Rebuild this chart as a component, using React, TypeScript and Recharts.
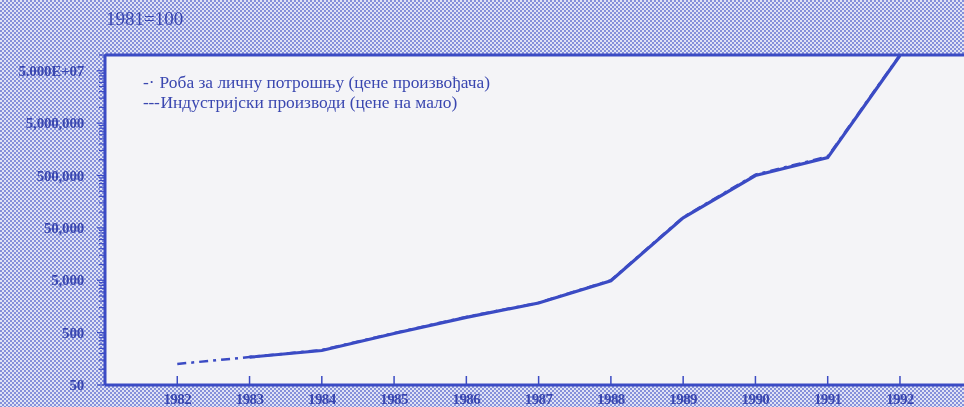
import { LineChart, Line, XAxis, YAxis, CartesianGrid, ReferenceLine } from "recharts"

const years = [1982, 1983, 1984, 1985, 1986, 1987, 1988, 1989, 1990, 1991, 1992]

// Роба за личну потрошњу (цене произвођача)
const consumerGoods = [126, 171, 233, 490, 1000, 1860, 5000, 80000, 520000, 1150000, 100000000]
// Индустријски производи (цене на мало)
const industrialProducts = [null, 170, 228, 480, 980, 1840, 4900, 78000, 500000, 1100000, 98000000]

const majorTicks = [50, 500, 5000, 50000, 500000, 5000000, 50000000]
const majorLabels = ["50", "500", "5,000", "50,000", "500,000", "5,000,000", "5.000E+07"]
const minorMultipliers = [2, 3, 4, 5, 6, 7, 8, 9]

const SERIES_A = "Роба за личну потрошњу (цене произвођача)"
const SERIES_B = "Индустријски производи (цене на мало)"

const BLUE = "#3b4bc4"
const TEXT = "#3a47b0"
const FONT = "'Liberation Serif', 'DejaVu Serif', serif"

const data = years.map((year, i) => ({
  year,
  a: consumerGoods[i],
  b: industrialProducts[i],
}))

const allTicks: number[] = []
majorTicks.forEach((t) => {
  allTicks.push(t)
  if (t < 50000000) minorMultipliers.forEach((m) => allTicks.push(t * m))
  else allTicks.push(t * 2)
})

const YTick = (props: any) => {
  const { x, y, payload } = props
  const idx = majorTicks.indexOf(payload.value)
  const major = idx >= 0
  return (
    <g>
      <line x1={x - (major ? 8 : 6)} x2={x} y1={y} y2={y} stroke={BLUE} strokeWidth={1.2} />
      {major && (
        <text x={x - 21} y={y} dy={5} textAnchor="end" fill={TEXT} fontSize={15} fontFamily={FONT} fontWeight={600} letterSpacing={-0.2}>
          {majorLabels[idx]}
        </text>
      )}
    </g>
  )
}

const XTick = (props: any) => {
  const { x, y, payload } = props
  return (
    <g>
      <line x1={x} x2={x} y1={y} y2={y - 9} stroke={BLUE} strokeWidth={1.5} />
      <text x={x} y={y} dy={19} textAnchor="middle" fill={TEXT} fontSize={15} fontFamily={FONT} fontWeight={600} letterSpacing={-0.6}>
        {payload.value}
      </text>
    </g>
  )
}

export default function App() {
  return (
    <div
      style={{
        position: "fixed",
        top: 0,
        left: 0,
        width: 964,
        height: 407,
        overflow: "hidden",
        background: "repeating-conic-gradient(#8590da 0% 25%, #e0e3f5 0% 50%) 0 0 / 4px 4px",
      }}
    >
      <div style={{ position: "absolute", left: 106, top: 9, fontFamily: FONT, fontSize: 19, color: TEXT, lineHeight: "20px" }}>
        1981=100
      </div>
      <LineChart width={964} height={407} data={data} margin={{ top: 55, right: 0, bottom: 0, left: 0 }}>
        <CartesianGrid fill="#f4f4f7" horizontal={false} vertical={false} />
        <XAxis
          dataKey="year"
          type="number"
          domain={[1981, 1992.886]}
          ticks={years}
          height={22}
          tickSize={0}
          tickMargin={0}
          tickLine={false}
          tick={<XTick />}
          axisLine={{ stroke: BLUE, strokeWidth: 3 }}
          allowDataOverflow
        />
        <YAxis
          scale="log"
          domain={[50, 100000000]}
          ticks={allTicks}
          interval={0}
          width={105}
          tickSize={0}
          tickMargin={0}
          tickLine={false}
          tick={<YTick />}
          axisLine={{ stroke: BLUE, strokeWidth: 3 }}
          allowDataOverflow
        />
        <ReferenceLine y={100000000} stroke={BLUE} strokeWidth={3} />
        <Line
          dataKey="b"
          name={SERIES_B}
          stroke={BLUE}
          strokeWidth={3.2}
          dot={false}
          connectNulls={false}
          isAnimationActive={false}
        />
        <Line
          dataKey="a"
          name={SERIES_A}
          stroke={BLUE}
          strokeWidth={2.5}
          strokeDasharray="9 5 3 5"
          dot={false}
          isAnimationActive={false}
        />
      </LineChart>
      <div style={{ position: "absolute", left: 143, top: 73, fontFamily: FONT, fontSize: 17.4, color: TEXT, lineHeight: "19.5px" }}>
        <div><span style={{ marginRight: 5 }}>-·</span>{SERIES_A}</div>
        <div><span style={{ letterSpacing: -0.3, marginRight: 1 }}>---</span>{SERIES_B}</div>
      </div>
    </div>
  )
}
